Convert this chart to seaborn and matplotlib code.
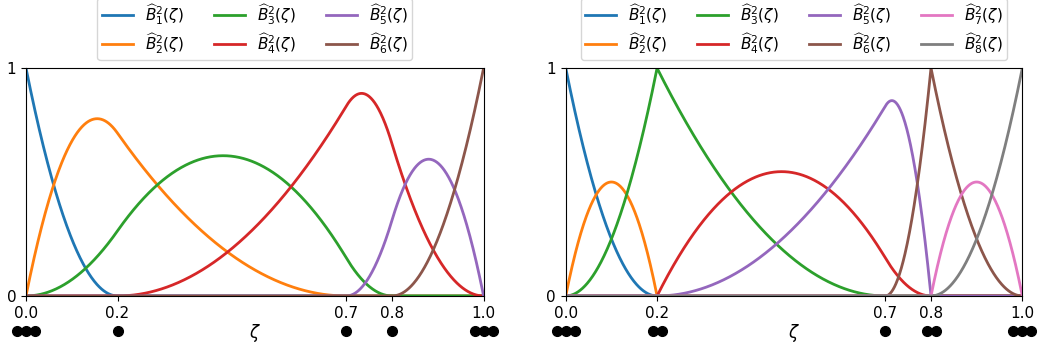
import numpy as np
import pandas as pd
import matplotlib
matplotlib.use("Agg")
import matplotlib.pyplot as plt
import seaborn as sns

# knot vectors (the dots under each panel) and polynomial degree
degree = 2
knots_left = [0.0, 0.0, 0.0, 0.2, 0.7, 0.8, 1.0, 1.0, 1.0]
knots_right = [0.0, 0.0, 0.0, 0.2, 0.2, 0.7, 0.8, 0.8, 1.0, 1.0, 1.0]
tick_left = [0.0, 0.2, 0.7, 0.8, 1.0]
tick_right = [0.0, 0.2, 0.7, 0.8, 1.0]


def bspline_basis(knots, p, x):
    knots = np.asarray(knots, float)
    n = len(knots) - p - 1
    # degree 0
    B = np.zeros((len(knots) - 1, len(x)))
    for i in range(len(knots) - 1):
        if knots[i] < knots[i + 1]:
            m = (x >= knots[i]) & (x < knots[i + 1])
            if knots[i + 1] == knots[-1]:
                m = m | (x == knots[-1])
            B[i] = m
    for k in range(1, p + 1):
        Bn = np.zeros((len(knots) - 1 - k, len(x)))
        for i in range(len(knots) - 1 - k):
            a = knots[i + k] - knots[i]
            b = knots[i + k + 1] - knots[i + 1]
            t1 = (x - knots[i]) / a * B[i] if a > 0 else 0
            t2 = (knots[i + k + 1] - x) / b * B[i + 1] if b > 0 else 0
            Bn[i] = t1 + t2
        B = Bn
    return B[:n]


def make_frame(knots):
    x = np.linspace(0, 1, 1001)
    B = bspline_basis(knots, degree, x)
    rows = []
    for i, b in enumerate(B):
        lab = r"$\widehat{B}_{%d}^{2}(\zeta)$" % (i + 1)
        rows.append(pd.DataFrame({"zeta": x, "value": b, "label": lab}))
    return pd.concat(rows, ignore_index=True)


fig = plt.figure(figsize=(10.4, 3.49), dpi=100)
ax1 = fig.add_axes([0.025, 0.152, 0.440, 0.653])
ax2 = fig.add_axes([0.544, 0.152, 0.439, 0.653])

for ax, knots, ticks, ncol in [(ax1, knots_left, tick_left, 3),
                               (ax2, knots_right, tick_right, 4)]:
    df = make_frame(knots)
    sns.lineplot(data=df, x="zeta", y="value", hue="label", ax=ax,
                 palette="tab10", linewidth=2, sort=False)
    ax.set_xlim(0, 1)
    ax.set_ylim(0, 1)
    ax.set_xticks(ticks)
    ax.set_xticklabels([f"{t:.1f}" for t in ticks], fontsize=11)
    ax.set_yticks([0, 1])
    ax.set_yticklabels(["0", "1"], fontsize=11)
    ax.set_ylabel("")
    ax.set_xlabel(r"$\zeta$", fontsize=12, labelpad=1)

    # knot markers, repeated knots spread side by side
    vals, counts = np.unique(knots, return_counts=True)
    step = 9 / (ax.get_position().width * 1040)
    for v, c in zip(vals, counts):
        offs = (np.arange(c) - (c - 1) / 2) * step
        ax.plot(v + offs, [-0.154] * c, "o", color="black", markersize=7,
                clip_on=False, transform=ax.get_xaxis_transform())

    ax.legend(loc="lower center", bbox_to_anchor=(0.5, 1.0), ncol=ncol,
              fontsize=11, title=None, labelspacing=0.25, borderpad=0.3)

fig.savefig("out.png", dpi=100)
